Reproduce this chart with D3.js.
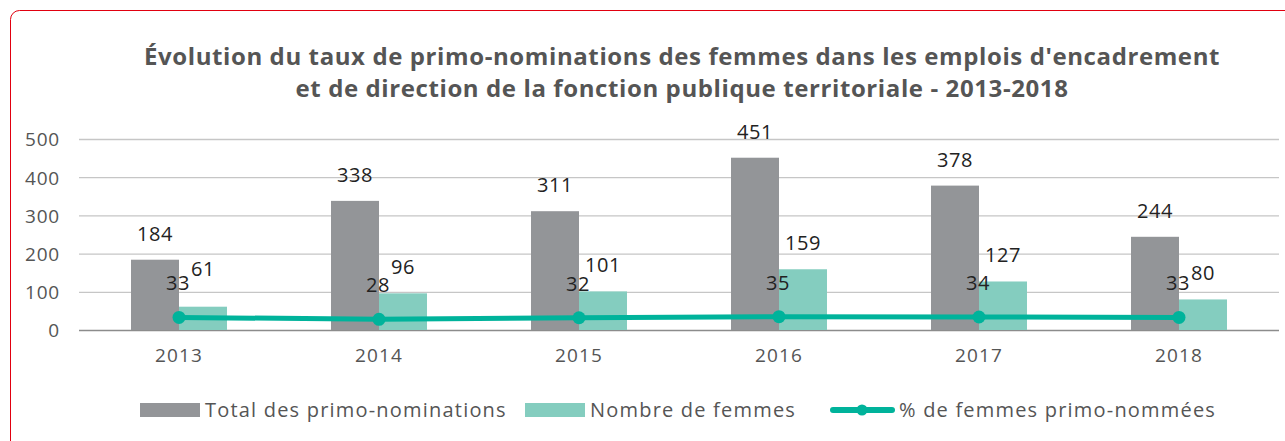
<!DOCTYPE html>
<html><head><meta charset="utf-8">
<script src="https://cdn.jsdelivr.net/npm/d3@7"></script>
<style>
html,body{margin:0;padding:0;background:#fff;overflow:hidden}
text{font-family:"Open Sans",sans-serif}
</style></head>
<body><svg id="c" width="1285" height="441"></svg>
<script>
const years = ["2013","2014","2015","2016","2017","2018"];
const totalNominations = [184,338,311,451,378,244];
const nombreFemmes = [61,96,101,159,127,80];
const pctFemmes = [33,28,32,35,34,33];
const yTicks = [0,100,200,300,400,500];
const titleLines = ["Évolution du taux de primo-nominations des femmes dans les emplois d'encadrement","et de direction de la fonction publique territoriale - 2013-2018"];
const legendLabels = ["Total des primo-nominations","Nombre de femmes","% de femmes primo-nommées"];

const C = {gray:"#939598", teal:"#84cdbf", line:"#00b39b", grid:"#c6c6c6", axis:"#8c8c8c", txt:"#555555", lab:"#222222", red:"#e1000f"};
const svg = d3.select("#c");

svg.append("rect").attr("x",10.5).attr("y",10.5).attr("width",1300).attr("height",460)
  .attr("rx",9).attr("fill","none").attr("stroke",C.red).attr("stroke-width",1);

svg.selectAll("text.title").data(titleLines).join("text").attr("class","title")
  .attr("x",682).attr("y",(d,i)=>65+i*32).attr("text-anchor","middle")
  .attr("font-size",24).attr("font-weight",700).attr("letter-spacing",0.6).attr("fill",C.txt).text(d=>d);

const x = d3.scaleBand().domain(years).range([79,1279]);
const y = d3.scaleLinear().domain([0,500]).range([330,139]);
const bw = 48;

const yAxis = svg.append("g").attr("transform","translate(79,0)")
  .call(d3.axisLeft(y).tickValues(yTicks).tickSize(-1200).tickPadding(19));
yAxis.select(".domain").remove();
yAxis.selectAll(".tick line").attr("stroke",d=>d===0?C.axis:C.grid).attr("stroke-width",1.3);
yAxis.selectAll(".tick text").attr("font-size",19).attr("fill",C.txt).attr("letter-spacing",0.8)
  .attr("font-family","Open Sans").attr("dy","0.36em");

const xAxis = svg.append("g").attr("transform","translate(0,330)")
  .call(d3.axisBottom(x).tickSize(0).tickPadding(19));
xAxis.select(".domain").remove();
xAxis.selectAll(".tick text").attr("font-size",19).attr("fill",C.txt).attr("letter-spacing",1.2)
  .attr("font-family","Open Sans");

const cx = d => x(d)+x.bandwidth()/2;

svg.selectAll("rect.tot").data(years).join("rect")
  .attr("x",d=>cx(d)-bw).attr("width",bw)
  .attr("y",(d,i)=>y(totalNominations[i])).attr("height",(d,i)=>y(0)-y(totalNominations[i]))
  .attr("fill",C.gray);
svg.selectAll("rect.fem").data(years).join("rect")
  .attr("x",d=>cx(d)).attr("width",bw)
  .attr("y",(d,i)=>y(nombreFemmes[i])).attr("height",(d,i)=>y(0)-y(nombreFemmes[i]))
  .attr("fill",C.teal);

const line = d3.line().x((d,i)=>cx(years[i])).y(d=>y(d));
svg.append("path").datum(pctFemmes).attr("d",line).attr("fill","none")
  .attr("stroke",C.line).attr("stroke-width",5).attr("stroke-linecap","round");
svg.selectAll("circle.pt").data(pctFemmes).join("circle")
  .attr("cx",(d,i)=>cx(years[i])).attr("cy",d=>y(d)).attr("r",6.5).attr("fill",C.line);

const lab = (sel)=>sel.attr("font-size",20).attr("letter-spacing",0.5).attr("fill",C.lab).attr("text-anchor","middle");
svg.selectAll("text.lt").data(totalNominations).join("text").call(lab)
  .attr("x",(d,i)=>cx(years[i])-bw/2).attr("y",d=>y(d)-19).text(d=>d);
const lineLabY = d=>y(d)-27;
svg.selectAll("text.lp").data(pctFemmes).join("text").call(lab)
  .attr("x",(d,i)=>cx(years[i])-1).attr("y",lineLabY).text(d=>d);
svg.selectAll("text.lf").data(nombreFemmes).join("text").call(lab)
  .attr("x",(d,i)=>cx(years[i])+bw/2).attr("y",(d,i)=>{
     let yy=y(d)-19, ly=lineLabY(pctFemmes[i]);
     return Math.abs(yy-ly)<8 ? ly-14 : yy;
  }).text(d=>d);

// legend
const lg = svg.append("g");
const items = [{x:140,type:"rect",c:C.gray},{x:525,type:"rect",c:C.teal},{x:830,type:"line",c:C.line}];
items.forEach((it,i)=>{
  if(it.type==="rect"){
    lg.append("rect").attr("x",it.x).attr("y",403).attr("width",60).attr("height",14).attr("fill",it.c);
    lg.append("text").attr("x",it.x+65).attr("y",417).attr("font-size",20).attr("letter-spacing",1.2).attr("fill",C.txt).text(legendLabels[i]);
  } else {
    lg.append("line").attr("x1",it.x+3).attr("x2",it.x+62).attr("y1",410).attr("y2",410)
      .attr("stroke",it.c).attr("stroke-width",6).attr("stroke-linecap","round");
    lg.append("circle").attr("cx",it.x+32).attr("cy",410).attr("r",5.5).attr("fill",it.c);
    lg.append("text").attr("x",it.x+69).attr("y",417).attr("font-size",20).attr("letter-spacing",1.2).attr("fill",C.txt).text(legendLabels[i]);
  }
});
</script></body></html>
